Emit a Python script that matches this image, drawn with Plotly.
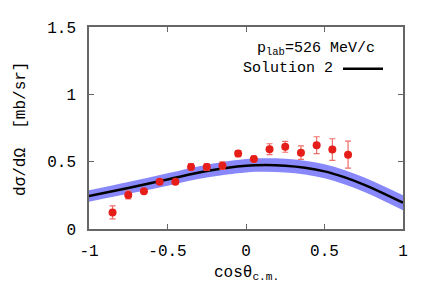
import plotly.graph_objects as go

# data points
cos_theta = [-0.85, -0.75, -0.65, -0.55, -0.45, -0.35, -0.25, -0.15, -0.05, 0.05, 0.15, 0.25, 0.35, 0.45, 0.55, 0.65]
dsigma = [0.123, 0.253, 0.28, 0.35, 0.35, 0.46, 0.46, 0.47, 0.56, 0.52, 0.593, 0.61, 0.567, 0.622, 0.59, 0.552]
dsigma_err = [0.048, 0.03, 0.015, 0.018, 0.015, 0.025, 0.025, 0.028, 0.022, 0.022, 0.04, 0.04, 0.05, 0.063, 0.08, 0.1]

# theory curve (Solution 2) and uncertainty band
curve_x = [-1.0, -0.75, -0.5, -0.25, 0.0, 0.125, 0.25, 0.375, 0.5, 0.625, 0.75, 0.875, 1.0]
curve_y = [0.245, 0.305, 0.368, 0.43, 0.47, 0.475, 0.47, 0.455, 0.428, 0.385, 0.33, 0.265, 0.195]
band_half = [0.042, 0.044, 0.046, 0.048, 0.05, 0.05, 0.051, 0.051, 0.052, 0.053, 0.054, 0.055, 0.056]

x_ticks = [-1, -0.5, 0, 0.5, 1]
x_tick_text = ["-1", "-0.5", "0", "0.5", "1"]
y_ticks = [0, 0.5, 1, 1.5]
y_tick_text = ["0", "0.5", "1", "1.5"]

FONT = "Liberation Mono"

upper = [y + h for y, h in zip(curve_y, band_half)]
lower = [y - h for y, h in zip(curve_y, band_half)]

fig = go.Figure()
fig.add_trace(go.Scatter(x=curve_x, y=lower, mode="lines", line=dict(width=0, shape="spline"),
                         showlegend=False, hoverinfo="skip"))
fig.add_trace(go.Scatter(x=curve_x, y=upper, mode="lines", line=dict(width=0, shape="spline"),
                         fill="tonexty", fillcolor="rgb(136,136,250)", showlegend=False, hoverinfo="skip"))
fig.add_trace(go.Scatter(x=curve_x, y=curve_y, mode="lines",
                         line=dict(color="black", width=2.5, shape="spline"), showlegend=False))
fig.add_trace(go.Scatter(x=cos_theta, y=dsigma, mode="markers",
                         marker=dict(color="rgb(230,30,25)", size=8),
                         error_y=dict(type="data", array=dsigma_err, color="rgb(238,110,105)",
                                      thickness=1.2, width=3),
                         showlegend=False))

axis_common = dict(showgrid=False, zeroline=False, showline=True, linecolor="#666666", linewidth=1.5,
                   mirror="ticks", ticks="inside", ticklen=5, tickcolor="#666666",
                   tickfont=dict(family=FONT, size=16, color="black"))

# page body adds an 8px offset; figure is sized to fit the window
W, H = 428, 297
L, R, T, B = 81, 33, 13, 76

fig.update_layout(
    width=W, height=H,
    margin=dict(l=L, r=R, t=T, b=B),
    paper_bgcolor="white", plot_bgcolor="white",
    xaxis=dict(range=[-1, 1], tickvals=x_ticks, ticktext=x_tick_text, ticklabelstandoff=6,
               **axis_common),
    yaxis=dict(range=[0, 1.5], tickvals=y_ticks, ticktext=y_tick_text, ticklabelstandoff=8,
               **axis_common),
)

pw = W - L - R
ph = H - T - B
def px(xp):  # window pixel -> paper
    return (xp - 8 - L) / pw
def py(yp):
    return (H - B - (yp - 8)) / ph

fig.add_annotation(x=px(246), y=py(275), xref="paper", yref="paper", text="cosθ<sub>c.m.</sub>",
                   showarrow=False, xanchor="center", yanchor="middle",
                   font=dict(family=FONT, size=16, color="black"))
fig.add_annotation(x=px(21), y=py(126), xref="paper", yref="paper", text="dσ/dΩ  [mb/sr]",
                   showarrow=False, xanchor="center", yanchor="middle", textangle=-90,
                   font=dict(family=FONT, size=16, color="black"))
fig.add_annotation(x=px(377), y=py(44), xref="paper", yref="paper", text="p<sub>lab</sub>=526 MeV/c",
                   showarrow=False, xanchor="right", yanchor="middle",
                   font=dict(family=FONT, size=15, color="black"))
fig.add_annotation(x=px(335), y=py(64), xref="paper", yref="paper", text="Solution 2",
                   showarrow=False, xanchor="right", yanchor="middle",
                   font=dict(family=FONT, size=15, color="black"))
fig.add_shape(type="line", xref="paper", yref="paper", x0=px(343), x1=px(383), y0=py(64), y1=py(64),
              line=dict(color="black", width=2.5))

fig.write_html("out.html")
